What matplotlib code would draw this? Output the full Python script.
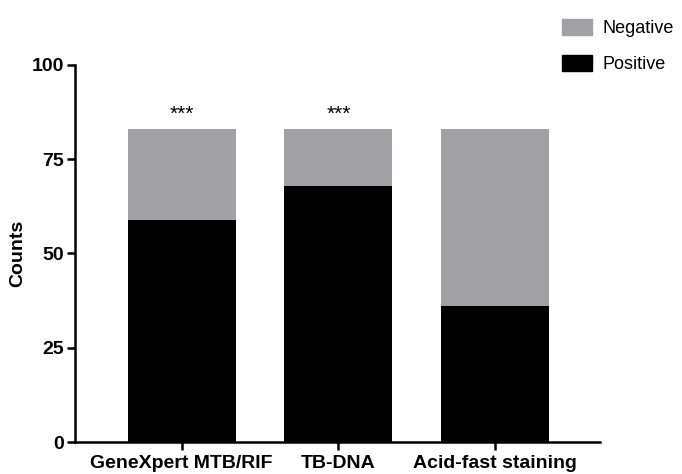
import matplotlib
matplotlib.use("Agg")
import matplotlib.pyplot as plt
from matplotlib.patches import Patch

categories = ["GeneXpert MTB/RIF", "TB-DNA", "Acid-fast staining"]
positive = [59, 68, 36]
negative = [24, 15, 47]
significance = ["***", "***", ""]
yticks = [0, 25, 50, 75, 100]

plt.rcParams['font.family'] = ['Liberation Sans', 'DejaVu Sans']

fig = plt.figure(figsize=(6.82, 4.74), dpi=100)
ax = fig.add_axes([0.110, 0.0675, 0.770, 0.7955])

grey = '#a1a0a5'
x = list(range(len(categories)))
ax.bar(x, positive, width=0.69, color='black', label='Positive')
ax.bar(x, negative, width=0.69, bottom=positive, color=grey, label='Negative')

for xi, p, n, s in zip(x, positive, negative, significance):
    if s:
        ax.text(xi, p + n + 1.5, s, ha='center', va='bottom', fontsize=15)

ax.set_xlim(-0.68, 2.67)
ax.set_ylim(0, 100)
ax.set_yticks(yticks)
ax.set_xticks(x)
ax.set_xticklabels(categories, fontsize=14, fontweight='bold')
for lbl in ax.get_yticklabels():
    lbl.set_fontsize(14)
    lbl.set_fontweight('bold')
ax.set_ylabel('Counts', fontsize=14, fontweight='bold', labelpad=4)

for side in ['top', 'right']:
    ax.spines[side].set_visible(False)
for side in ['left', 'bottom']:
    ax.spines[side].set_linewidth(1.8)
ax.tick_params(axis='both', width=1.8, length=6, direction='out')
ax.tick_params(axis='x', pad=3)
ax.tick_params(axis='y', pad=2)

handles = [Patch(color=grey, label='Negative'), Patch(color='black', label='Positive')]
fig.legend(handles=handles, loc='upper left', bbox_to_anchor=(0.80, 0.994),
           frameon=False, fontsize=13, handlelength=1.65, handleheight=1.0,
           labelspacing=0.95, handletextpad=0.6)

fig.savefig('out.png', dpi=100)
